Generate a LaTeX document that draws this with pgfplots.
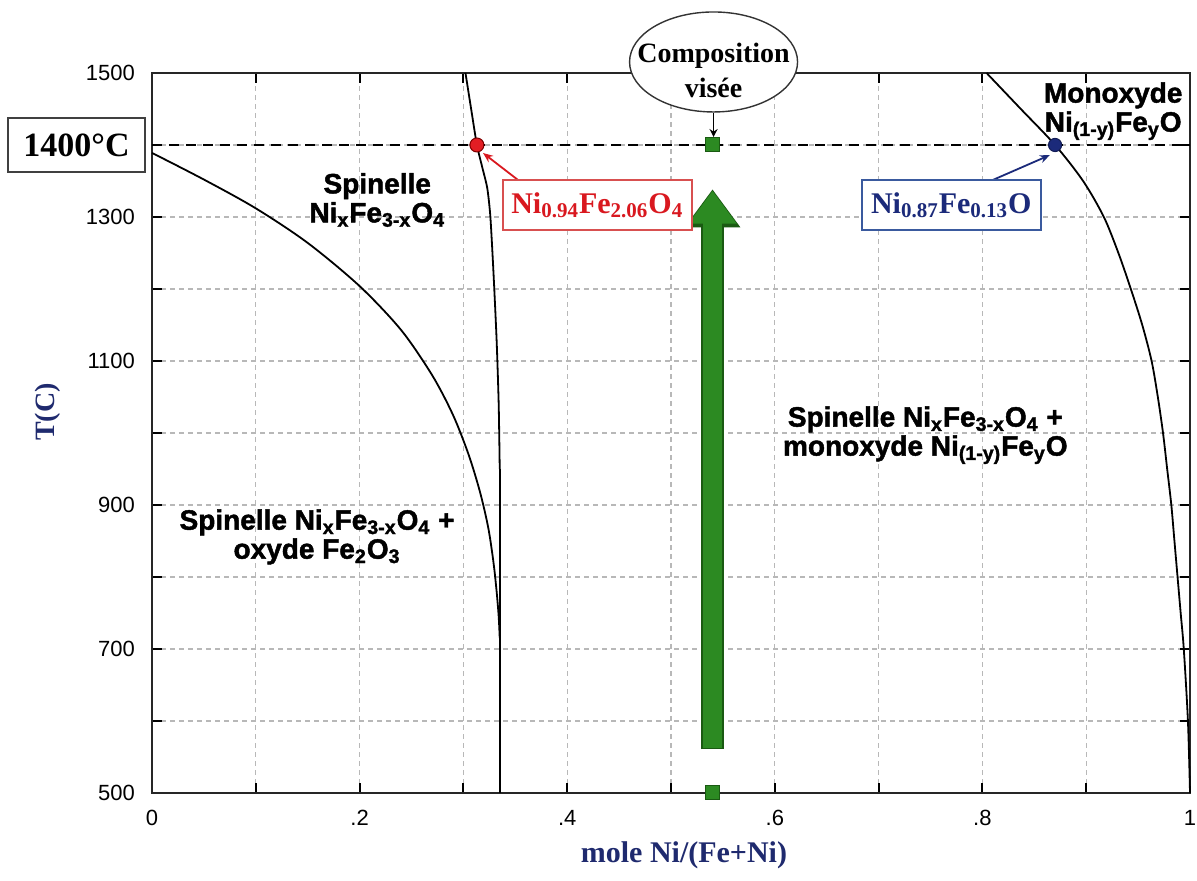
\documentclass[border=0pt]{standalone}
\usepackage{fontspec}
\setmainfont{Liberation Serif}
\setsansfont{Liberation Sans}
\newfontfamily\regfnt{Liberation Sans}[BoldFeatures={FakeBold=1.6}]
\usepackage{pgfplots}
\pgfplotsset{compat=1.18}
\usetikzlibrary{arrows.meta}
\definecolor{redpt}{HTML}{E31E24}
\definecolor{redtxt}{HTML}{D9181F}
\definecolor{redbox}{HTML}{D85050}
\definecolor{navy}{HTML}{1B2A7A}
\definecolor{bluebox}{HTML}{3A5A9E}
\definecolor{labblue}{HTML}{1F2A6E}
\definecolor{grn}{HTML}{2C8A22}
\definecolor{dgrn}{HTML}{1A5A12}
\newcommand{\regfont}{\fontsize{14}{14.5}\selectfont\regfnt\bfseries}
\begin{document}
\begin{tikzpicture}
\useasboundingbox (-76pt,-44pt) rectangle (522.5pt,396.5pt);
\begin{axis}[
  at={(0,0)}, anchor=south west,
  width=519pt, height=360pt, scale only axis,
  xmin=0, xmax=1, ymin=500, ymax=1500,
  xtick={0,0.2,0.4,0.6,0.8,1}, xticklabels={0,.2,.4,.6,.8,1},
  minor xtick={0.1,0.3,0.5,0.7,0.9},
  ytick={500,700,900,1100,1300,1500},
  minor ytick={600,800,1000,1200,1400},
  /pgf/number format/set thousands separator={},
  /pgf/number format/assume math mode=true,
  grid=both,
  major grid style={black!28, line width=0.6pt, dash pattern=on 2.5pt off 2pt},
  minor grid style={black!28, line width=0.6pt, dash pattern=on 2.5pt off 2pt},
  tick align=inside, major tick length=5pt, minor tick length=5pt,
  tick style={black, line width=1pt},
  axis line style={line width=1pt, black!85},
  clip=false,
  ticklabel style={font=\fontsize{11}{11}\selectfont\sffamily},
  yticklabel style={xshift=-5pt},
  xticklabel style={yshift=-5pt},
]
% phase boundaries
\addplot[black, line width=0.9pt, smooth, tension=0.5] coordinates {
 (0,1389) (0.05,1352) (0.10,1312) (0.15,1264) (0.20,1204) (0.24,1143)
 (0.27,1080) (0.29,1025) (0.305,970) (0.316,918) (0.324,868) (0.329,820)
 (0.332,780) (0.334,745) (0.335,715)};
\addplot[black, line width=0.9pt, smooth, tension=0.4] coordinates {
 (0.302,1500) (0.308,1445) (0.313,1400) (0.318,1370) (0.323,1340) (0.326,1300) (0.329,1222)
 (0.332,1129) (0.334,1040) (0.335,950)};
\addplot[black, line width=0.9pt] coordinates {(0.335,950) (0.335,500)};
\addplot[black, line width=0.9pt, smooth, tension=0.5] coordinates {
 (0.804,1500) (0.837,1450) (0.870,1400) (0.897,1350) (0.917,1300) (0.931,1250)
 (0.943,1200) (0.954,1150) (0.963,1100) (0.969,1050) (0.974,1000) (0.978,950)
 (0.982,900) (0.985,850) (0.988,800) (0.991,750) (0.994,700) (0.998,600) (1.0,500)};
% 1400 C line
\addplot[black, line width=1pt, dash pattern=on 5pt off 3.5pt] coordinates {(0,1400) (1,1400)};
% big green arrow
\draw[dgrn, line width=11.5pt, -{Triangle[width=26.5pt, length=19pt]}] (axis cs:0.54,561) -- (axis cs:0.54,1338.5);
\draw[grn, line width=9.5pt, -{Triangle[width=23pt, length=16.5pt]}] (axis cs:0.54,562.5) -- (axis cs:0.54,1336.5);
% points
\addplot[only marks, mark=*, mark size=3.5pt, mark options={fill=redpt, draw=red!50!black, line width=0.5pt}] coordinates {(0.313,1400)};
\addplot[only marks, mark=*, mark size=3.3pt, mark options={fill=navy, draw=navy!70!black, line width=0.5pt}] coordinates {(0.870,1400)};
\addplot[only marks, mark=square*, mark size=3.5pt, mark options={fill=grn, draw=dgrn, line width=0.5pt}] coordinates {(0.54,1400) (0.54,500)};
% annotations
\draw[redtxt, line width=0.9pt, -{Stealth[length=5pt, width=4pt]}] (axis cs:0.3526,1351.4) -- (axis cs:0.3189,1388.9);
\node[draw=redbox, line width=0.8pt, fill=white, minimum width=94.5pt, minimum height=25pt, inner sep=1pt,
  text=redtxt, font=\fontsize{15}{15}\selectfont\bfseries] at (axis cs:0.429,1316.7) {Ni\textsubscript{0.94}Fe\textsubscript{2.06}O\textsubscript{4}};
\draw[navy, line width=0.9pt, -{Stealth[length=5pt, width=4pt]}] (axis cs:0.810,1351.4) -- (axis cs:0.865,1386);
\node[draw=bluebox, line width=0.8pt, fill=white, minimum width=89.5pt, minimum height=25pt, inner sep=1pt,
  text=navy, font=\fontsize{15}{15}\selectfont\bfseries] at (axis cs:0.770,1316.7) {Ni\textsubscript{0.87}Fe\textsubscript{0.13}O};
\draw[black!80, line width=0.7pt, fill=white] (axis cs:0.541,1515.3) ellipse [x radius=42pt, y radius=25pt];
\node[align=center, font=\fontsize{14}{17.5}\selectfont\bfseries, inner sep=0pt] at (axis cs:0.541,1504) {Composition\\vis\'ee};
\draw[black, line width=0.8pt, -{Stealth[length=4pt, width=4pt]}] (axis cs:0.541,1444) -- (axis cs:0.541,1411);
\node[draw=black!75, line width=0.9pt, fill=white, minimum width=68.5pt, minimum height=27pt,
  font=\fontsize{17}{17}\selectfont\bfseries] at (axis cs:-0.0727,1400) {1400°C};
% region labels
\node[align=center, font=\regfont] at (axis cs:0.217,1323.6) {Spinelle\\Ni\textsubscript{x}Fe\textsubscript{3-x}O\textsubscript{4}};
\node[align=center, font=\regfont] at (axis cs:0.159,855.6) {Spinelle Ni\textsubscript{x}Fe\textsubscript{3-x}O\textsubscript{4} +\\oxyde Fe\textsubscript{2}O\textsubscript{3}};
\node[align=center, font=\regfont] at (axis cs:0.745,997) {Spinelle Ni\textsubscript{x}Fe\textsubscript{3-x}O\textsubscript{4} +\\monoxyde Ni\textsubscript{(1-y)}Fe\textsubscript{y}O};
\node[align=center, font=\regfont] at (axis cs:0.926,1447) {Monoxyde\\Ni\textsubscript{(1-y)}Fe\textsubscript{y}O};
% axis labels
\node[text=labblue, font=\fontsize{15}{15}\selectfont\bfseries] at (axis cs:0.5125,414) {mole Ni/(Fe+Ni)};
\node[text=labblue, rotate=90, font=\fontsize{14}{14}\selectfont\bfseries] at (axis cs:-0.1002,1029) {T(C)};
\end{axis}
\end{tikzpicture}
\end{document}
